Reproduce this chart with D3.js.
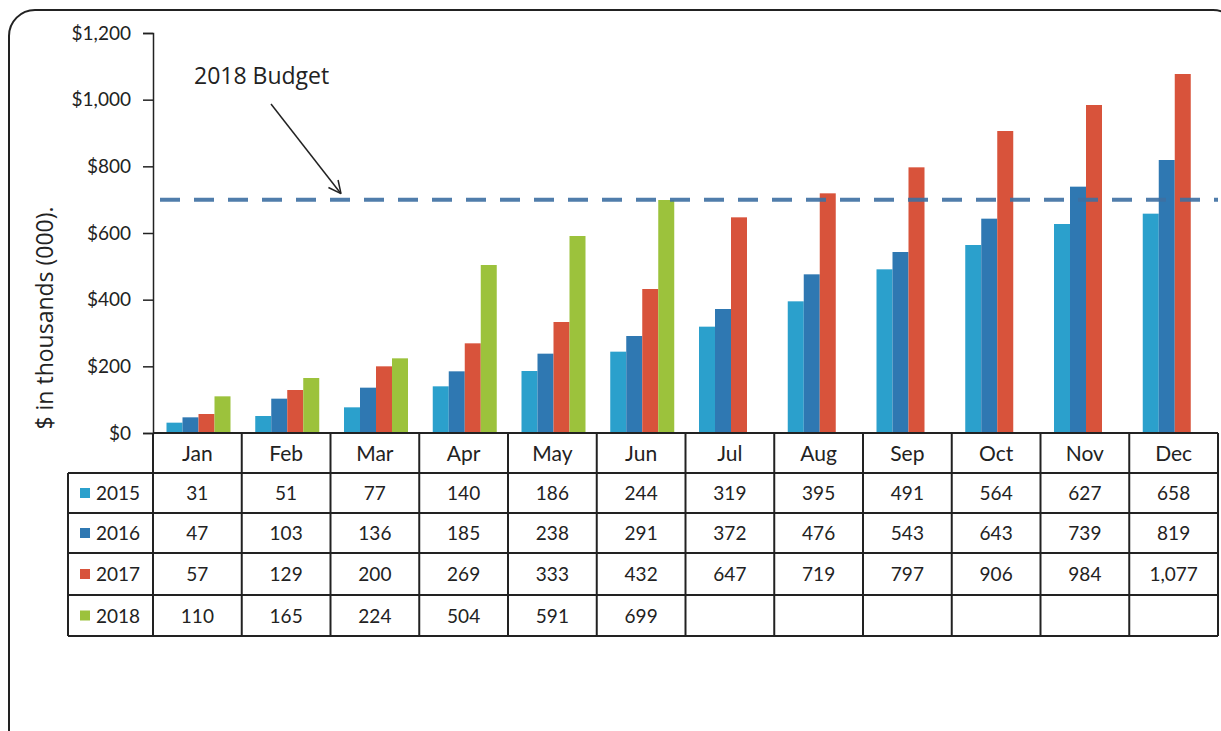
<!DOCTYPE html>
<html>
<head>
<meta charset="utf-8">
<script src="https://cdn.jsdelivr.net/npm/d3@7"></script>
<style>
  body { margin: 0; background: #fff; }
  svg text { font-family: Lato, "Open Sans", sans-serif; fill: #222; }
</style>
</head>
<body>
<svg id="chart" width="1221" height="731"></svg>
<script>
const months = ['Jan','Feb','Mar','Apr','May','Jun','Jul','Aug','Sep','Oct','Nov','Dec'];
const years = ['2015','2016','2017','2018'];
const v2015 = [31, 51, 77, 140, 186, 244, 319, 395, 491, 564, 627, 658];
const v2016 = [47, 103, 136, 185, 238, 291, 372, 476, 543, 643, 739, 819];
const v2017 = [57, 129, 200, 269, 333, 432, 647, 719, 797, 906, 984, 1077];
const v2018 = [110, 165, 224, 504, 591, 699, null, null, null, null, null, null];
const yTicks = [0, 200, 400, 600, 800, 1000, 1200];
const budget = 700;

const colors = {'2015': '#2ba0cc', '2016': '#2f78b2', '2017': '#d8533b', '2018': '#9cc23c'};
const series = {'2015': v2015, '2016': v2016, '2017': v2017, '2018': v2018};

const svg = d3.select('#chart');

// outer rounded frame
svg.append('rect')
    .attr('x', 9).attr('y', 10)
    .attr('width', 1230).attr('height', 760)
    .attr('rx', 26)
    .attr('fill', 'none')
    .attr('stroke', '#222')
    .attr('stroke-width', 2);

const plotLeft = 153, plotRight = 1218, plotTop = 33, base = 433;

const x = d3.scaleBand().domain(months).range([plotLeft, plotRight]);
const x1 = d3.scaleBand().domain(years).range([13.5, 77.5]);
const y = d3.scaleLinear().domain([0, 1200]).range([base, plotTop]);

// bars
const g = svg.append('g');
years.forEach(yr => {
    g.selectAll('rect.b' + yr)
        .data(series[yr].map((v, i) => ({m: months[i], v})).filter(d => d.v != null))
        .enter().append('rect')
        .attr('x', d => x(d.m) + x1(yr))
        .attr('y', d => y(d.v))
        .attr('width', x1.bandwidth())
        .attr('height', d => base - y(d.v))
        .attr('fill', colors[yr]);
});

// y axis
const yAxis = svg.append('g')
    .attr('transform', `translate(${plotLeft},0)`)
    .call(d3.axisLeft(y).tickValues(yTicks).tickSize(10).tickPadding(12)
        .tickFormat(d => '$' + d3.format(',')(d)));
yAxis.select('.domain').attr('stroke', '#222').attr('stroke-width', 1.5);
yAxis.selectAll('.tick line').attr('stroke', '#222').attr('stroke-width', 1.5);
yAxis.selectAll('.tick text').style('font-size', '19px').style('font-family', 'Lato, sans-serif').attr('fill', '#222');

svg.append('text')
    .attr('transform', 'translate(53,318) rotate(-90)')
    .attr('text-anchor', 'middle')
    .style('font-size', '23px')
    .style('font-family', '"Open Sans", sans-serif')
    .text('$ in thousands (000).');

// budget line
svg.append('line')
    .attr('x1', 160).attr('x2', plotRight)
    .attr('y1', y(budget)).attr('y2', y(budget))
    .attr('stroke', '#3e70a2')
    .attr('stroke-width', 4)
    .attr('stroke-dasharray', '20,14')
    .attr('opacity', 0.9);

// annotation
svg.append('text')
    .attr('x', 194).attr('y', 84)
    .style('font-size', '23px')
    .style('font-family', '"Open Sans", sans-serif')
    .text('2018 Budget');

const ax0 = 271, ay0 = 104, ax1 = 341, ay1 = y(budget) - 6;
svg.append('line')
    .attr('x1', ax0).attr('y1', ay0).attr('x2', ax1).attr('y2', ay1)
    .attr('stroke', '#222').attr('stroke-width', 1.5);
const ang = Math.atan2(ay1 - ay0, ax1 - ax0);
[ang + Math.PI - 0.45, ang + Math.PI + 0.45].forEach(a => {
    svg.append('line')
        .attr('x1', ax1).attr('y1', ay1)
        .attr('x2', ax1 + 14 * Math.cos(a)).attr('y2', ay1 + 14 * Math.sin(a))
        .attr('stroke', '#222').attr('stroke-width', 1.5);
});

// data table
const rowY = [433, 473, 513, 553, 595, 636];
const tableLeft = 68;
const tg = svg.append('g').attr('stroke', '#222').attr('stroke-width', 2);

// horizontal lines
rowY.forEach((ry, i) => {
    tg.append('line')
        .attr('x1', i === 0 ? plotLeft : tableLeft).attr('x2', plotRight)
        .attr('y1', ry).attr('y2', ry);
});
// vertical lines
tg.append('line').attr('x1', tableLeft).attr('x2', tableLeft).attr('y1', rowY[1]).attr('y2', rowY[5]);
months.concat(['end']).forEach((m, i) => {
    const xx = i < 12 ? x(m) : plotRight;
    tg.append('line').attr('x1', xx).attr('x2', xx).attr('y1', rowY[0]).attr('y2', rowY[5]);
});

// month header
svg.selectAll('text.month')
    .data(months).enter().append('text')
    .attr('class', 'month')
    .attr('x', d => x(d) + x.bandwidth() / 2)
    .attr('y', (rowY[0] + rowY[1]) / 2 + 8)
    .attr('text-anchor', 'middle')
    .style('font-size', '21px')
    .text(d => d);

// rows
years.forEach((yr, r) => {
    const cy = (rowY[r + 1] + rowY[r + 2]) / 2;
    svg.append('rect')
        .attr('x', 80).attr('y', cy - 5)
        .attr('width', 10).attr('height', 10)
        .attr('fill', colors[yr]);
    svg.append('text')
        .attr('x', 96).attr('y', cy + 7)
        .style('font-size', '19px')
        .text(yr);
    svg.selectAll('text.v' + yr)
        .data(series[yr].map((v, i) => ({m: months[i], v})).filter(d => d.v != null))
        .enter().append('text')
        .attr('x', d => x(d.m) + x.bandwidth() / 2)
        .attr('y', cy + 7)
        .attr('text-anchor', 'middle')
        .style('font-size', '19px')
        .text(d => d3.format(',')(d.v));
});
</script>
</body>
</html>
